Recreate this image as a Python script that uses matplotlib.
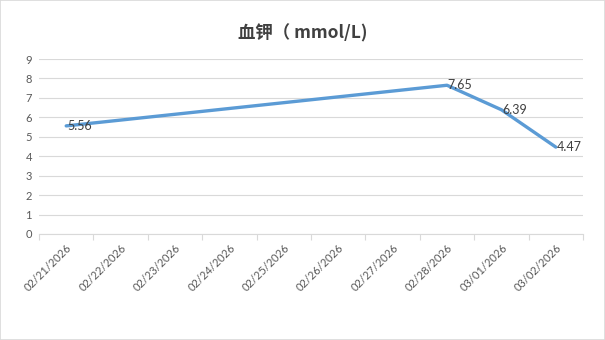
import numpy as np
import matplotlib
matplotlib.use("Agg")
import matplotlib.pyplot as plt
from matplotlib.patches import Rectangle

# chart data
dates = ["02/21/2026", "02/22/2026", "02/23/2026", "02/24/2026", "02/25/2026",
         "02/26/2026", "02/27/2026", "02/28/2026", "03/01/2026", "03/02/2026"]
potassium = [5.56, None, None, None, None, None, None, 7.65, 6.39, 4.47]
title = "血钾（ mmol/L)"

plt.rcParams['font.family'] = ['Lato', 'Noto Sans CJK SC', 'DejaVu Sans']

fig = plt.figure(figsize=(6.05, 3.4), dpi=100)
ax = fig.add_axes([39 / 605, 1 - 234 / 340, 544 / 605, 175 / 340])

# only measured days, line spans the gaps
xs = [i for i, v in enumerate(potassium) if v is not None]
ys = [v for v in potassium if v is not None]
ax.plot(xs, ys, color='#5B9BD5', lw=2.4, solid_capstyle='round', zorder=3)
for x, y in zip(xs, ys):
    ax.annotate(f"{y:.2f}", (x, y), xytext=(0.5, 0), textcoords='offset points',
                ha='left', va='center', fontsize=9, color='#404040', zorder=4)

ax.set_xlim(-0.5, len(dates) - 0.5)
ax.set_ylim(0, 9)
ax.set_yticks(range(0, 10))
ax.grid(axis='y', color='#D9D9D9', lw=0.8)
ax.set_axisbelow(True)

ax.set_xticks(np.arange(len(dates)))
ax.set_xticklabels(dates, rotation=45, ha='right', rotation_mode='anchor',
                   fontsize=8, color='#595959')
ax.tick_params(axis='x', length=0, pad=6)
ax.set_xticks(np.arange(-0.5, len(dates)), minor=True)
ax.tick_params(axis='x', which='minor', length=4, color='#D9D9D9', width=0.8)
ax.tick_params(axis='y', length=0, labelsize=8, labelcolor='#595959', pad=5)

for s in ['top', 'right', 'left']:
    ax.spines[s].set_visible(False)
ax.spines['bottom'].set_color('#D9D9D9')
ax.spines['bottom'].set_linewidth(0.8)

fig.text(0.5, 1 - 33 / 340, title, ha='center', va='center', fontsize=12.5,
         fontweight='bold', color='#404040',
         family=['Noto Sans CJK SC', 'DejaVu Sans'])

# chart frame
fig.patches.append(Rectangle((0, 0), 1, 1, transform=fig.transFigure,
                             fill=False, edgecolor='#D9D9D9', lw=1.2))

fig.savefig("out.png", dpi=100)
